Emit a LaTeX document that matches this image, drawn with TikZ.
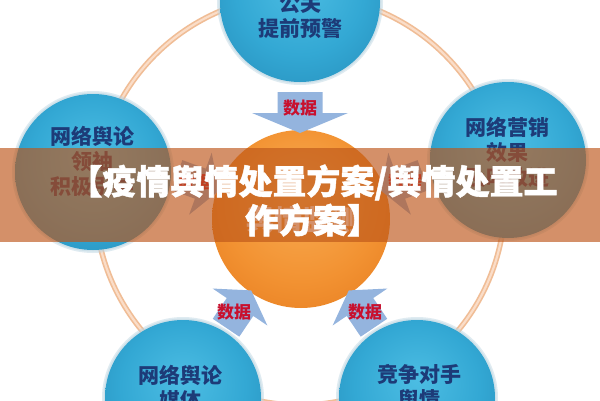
\documentclass[tikz,border=0pt]{standalone}
\usepackage{fontspec}
\newfontfamily\cjk{Noto Sans CJK SC}
\newfontfamily\cjkh{Noto Sans CJK SC}[BoldFeatures={FakeBold=1.3}]
\definecolor{navytxt}{HTML}{1D3B78}
\definecolor{redtxt}{HTML}{C8102E}
\definecolor{ringout}{HTML}{F0BD96}
\definecolor{ringin}{HTML}{FADDC8}
\definecolor{blueA}{HTML}{4CBDE3}
\definecolor{blueB}{HTML}{33A8D4}
\definecolor{blueC}{HTML}{2489B6}
\definecolor{orA}{HTML}{F9AE55}
\definecolor{orB}{HTML}{F29232}
\definecolor{orC}{HTML}{E27418}
\definecolor{arrowcol}{HTML}{94B4DE}
\definecolor{halocol}{HTML}{B9D3E0}
\definecolor{bandcol}{HTML}{BD5619}
\pgfdeclareradialshading{bluesh}{\pgfpoint{0bp}{6bp}}{color(0bp)=(blueA); color(20bp)=(blueB); color(40bp)=(blueC); color(50bp)=(blueC)}
\pgfdeclareradialshading{orsh}{\pgfpoint{0bp}{8bp}}{color(0bp)=(orA); color(22bp)=(orB); color(42bp)=(orC); color(50bp)=(orC)}
\tikzset{
  bluecirc/.style={shading=bluesh},
  halo/.style={fill=halocol, opacity=0.45},
  circtxt/.style={font=\cjk\bfseries\fontsize{21}{25}\selectfont, text=navytxt, align=center, inner sep=0pt},
  datatxt/.style={font=\cjk\bfseries\fontsize{17}{19}\selectfont, text=redtxt, inner sep=0pt},
  titletxt/.style={font=\cjkh\bfseries\fontsize{34}{39}\selectfont, text=white, align=center, inner sep=0pt},
  arrowshape/.style={fill=arrowcol}
}
\begin{document}
\begin{tikzpicture}[x=1pt,y=1pt]
\useasboundingbox (0,0) rectangle (600,400);
\fill[white] (0,0) rectangle (600,400);
% ring
\draw[ringout, line width=5.5] (300,200) circle[radius=205];
\draw[ringin, line width=2.2] (300,200) circle[radius=205];
% blue circles
\foreach \cx/\cy/\r in {300/398/80, 93/228/78, 508/240/78, 183/2/78, 417/2/78}{
  \fill[halo] (\cx,\cy) circle[radius=\r+3];
  \fill[halo] (\cx,\cy) circle[radius=\r+1.5];
  \shade[bluecirc] (\cx,\cy) circle[radius=\r];
}
% center circle
\shade[shading=orsh] (301,181) circle[radius=89];
\node[font=\cjk\bfseries\fontsize{28}{30}\selectfont, text=white, inner sep=0pt] (centertxt) at (302,180) {舆情监测};
% arrows: base point, rotation, shaft length, shaft half width, head half width, head length
\foreach \bx/\by/\rot/\ls/\sw/\hw/\hl in {300/287/-90/21/22.5/48/20, 240/93/56/25/16/33/20, 360/93/124/25/16/33/20, 200.4/216.3/-20/25/16/33/20, 399.6/216.3/200/25/16/33/20}{
  \begin{scope}[shift={(\bx,\by)}, rotate=\rot]
    \fill[arrowshape] (-\ls,-\sw) -- (0,-\sw) -- (0,-\hw) -- (\hl,0) -- (0,\hw) -- (0,\sw) -- (-\ls,\sw) -- cycle;
  \end{scope}
}
\node[datatxt] (d1) at (300,292) {数据};
\node[datatxt] (d2) at (234,88) {数据};
\node[datatxt] (d3) at (365,88) {数据};
\node[datatxt] (d4) at (195,218) {数据};
\node[datatxt] (d5) at (405,218) {数据};
% circle texts
\node[circtxt] (t1) at (300,384) {公关\\提前预警};
\node[circtxt] (t2) at (92,239) {网络舆论\\领袖\\积极引导};
\node[circtxt] (t3) at (507,248) {网络营销\\效果\\及时改进};
\node[circtxt] (t4) at (180,12.5) {网络舆论\\媒体};
\node[circtxt] (t5) at (419,12.5) {竞争对手\\舆情};
% band
\fill[bandcol, opacity=0.65] (0,158) rectangle (600,252);
\node[titletxt] (title) at (313,199.5) {【疫情舆情处置方案/舆情处置工\\作方案】};
\end{tikzpicture}
\end{document}
